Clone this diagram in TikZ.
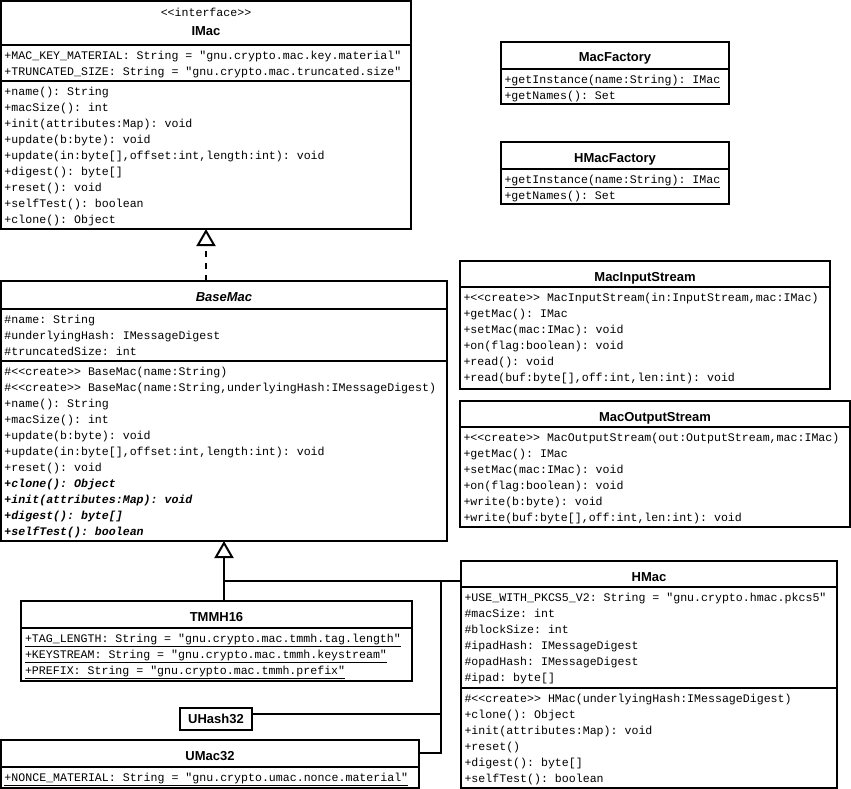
\documentclass[tikz,border=0pt]{standalone}
\usepackage{fontspec}
\setsansfont{Liberation Sans}
\setmonofont{Liberation Mono}
\usetikzlibrary{arrows.meta}

\begin{document}
\begin{tikzpicture}[x=1pt, y=-1pt, line width=2pt, line join=miter,
  clase/.style={draw, anchor=north west, inner sep=0pt, outer sep=0pt},
  separa/.style={line width=1.5pt},
  titulo/.style={font=\sffamily\bfseries\fontsize{13}{15}\selectfont, anchor=base, inner sep=0pt},
  miembro/.style={font=\ttfamily\fontsize{11.6}{16}\selectfont, anchor=base west, inner sep=0pt},
  hereda/.style={-{Triangle[open, length=17pt, width=19pt]}}]
  \useasboundingbox (0,0) rectangle (851,789);
  % las cajas de las clases
  \foreach \n/\x/\y/\w/\h in {imac/1/1/410/228, basemac/1/281/446/260, macfac/501/42/228/62,
      hmacfac/501/142/228/62, macin/460/261/370/128, macout/460/401/390/126,
      tmmh/21/601/391/80, uhash/180/708/72/22, umac/1/740/418/48, hmac/461/561/376/227} {
    \node[clase, minimum width=\w pt, minimum height=\h pt] (\n) at (\x,\y) {};
  }
  % los separadores de compartimentos
  \foreach \n/\y in {imac/45, imac/81, basemac/309, basemac/361, macfac/69, hmacfac/169,
      macin/287, macout/427, tmmh/628, umac/767, hmac/587, hmac/688} {
    \draw[separa] (\n.west |- 0,\y) -- (\n.east |- 0,\y);
  }
  % los nombres
  \node[miembro, anchor=base] (imac-estereo) at ([yshift=-16pt]imac.north) {<<interface>>};
  \node[titulo] (imac-nombre) at ([yshift=-35pt]imac.north) {IMac};
  \node[titulo, font=\sffamily\bfseries\itshape\fontsize{13}{15}\selectfont] (basemac-nombre)
    at ([yshift=-20pt]basemac.north) {BaseMac};
  \foreach \n/\t in {macfac/MacFactory, hmacfac/HMacFactory, macin/MacInputStream,
      macout/MacOutputStream, tmmh/TMMH16, umac/UMac32, hmac/HMac} {
    \node[titulo] (\n-nombre) at ([yshift=-20pt]\n.north) {\t};
  }
  \node[titulo, anchor=center] (uhash-nombre) at (uhash) {UHash32};
  % IMac
  \foreach \t [count=\i] in {{+MAC\_KEY\_MATERIAL: String = "gnu.crypto.mac.key.material"},
      {+TRUNCATED\_SIZE: String = "gnu.crypto.mac.truncated.size"}} {
    \node[miembro] (imac-at\i) at (3.5, 59.5+16*\i-16) {\t};
  }
  \foreach \t [count=\i] in {{+name(): String}, {+macSize(): int}, {+init(attributes:Map): void},
      {+update(b:byte): void}, {+update(in:byte[],offset:int,length:int): void},
      {+digest(): byte[]}, {+reset(): void}, {+selfTest(): boolean}, {+clone(): Object}} {
    \node[miembro] (imac-op\i) at (3.5, 95.5+16*\i-16) {\t};
  }
  % BaseMac
  \foreach \t [count=\i] in {{\#name: String}, {\#underlyingHash: IMessageDigest},
      {\#truncatedSize: int}} {
    \node[miembro] (basemac-at\i) at (3.5, 323.5+16*\i-16) {\t};
  }
  \foreach \t [count=\i] in {{\#<<create>> BaseMac(name:String)},
      {\#<<create>> BaseMac(name:String,underlyingHash:IMessageDigest)},
      {+name(): String}, {+macSize(): int}, {+update(b:byte): void},
      {+update(in:byte[],offset:int,length:int): void}, {+reset(): void},
      {\bfseries\itshape +clone(): Object}, {\bfseries\itshape +init(attributes:Map): void},
      {\bfseries\itshape +digest(): byte[]}, {\bfseries\itshape +selfTest(): boolean}} {
    \node[miembro] (basemac-op\i) at (3.5, 375.5+16*\i-16) {\t};
  }
  % las factorías
  \foreach \n/\y in {macfac/83.5, hmacfac/183.5} {
    \node[miembro] (\n-op1) at (503.5, \y) {\underline{+getInstance(name:String): IMac}};
    \node[miembro] (\n-op2) at (503.5, \y+16) {+getNames(): Set};
  }
  % los streams
  \foreach \t [count=\i] in {{+<<create>> MacInputStream(in:InputStream,mac:IMac)},
      {+getMac(): IMac}, {+setMac(mac:IMac): void}, {+on(flag:boolean): void},
      {+read(): void}, {+read(buf:byte[],off:int,len:int): void}} {
    \node[miembro] (macin-op\i) at (462.5, 301.5+16*\i-16) {\t};
  }
  \foreach \t [count=\i] in {{+<<create>> MacOutputStream(out:OutputStream,mac:IMac)},
      {+getMac(): IMac}, {+setMac(mac:IMac): void}, {+on(flag:boolean): void},
      {+write(b:byte): void}, {+write(buf:byte[],off:int,len:int): void}} {
    \node[miembro] (macout-op\i) at (462.5, 441.5+16*\i-16) {\t};
  }
  % TMMH16 y UMac32
  \foreach \t [count=\i] in {{+TAG\_LENGTH: String = "gnu.crypto.mac.tmmh.tag.length"},
      {+KEYSTREAM: String = "gnu.crypto.mac.tmmh.keystream"},
      {+PREFIX: String = "gnu.crypto.mac.tmmh.prefix"}} {
    \node[miembro] (tmmh-at\i) at (24, 642.5+16*\i-16) {\underline{\t}};
  }
  \node[miembro] (umac-at1) at (3.5, 781.5)
    {\underline{+NONCE\_MATERIAL: String = "gnu.crypto.umac.nonce.material"}};
  % HMac
  \foreach \t [count=\i] in {{+USE\_WITH\_PKCS5\_V2: String = "gnu.crypto.hmac.pkcs5"},
      {\#macSize: int}, {\#blockSize: int}, {\#ipadHash: IMessageDigest},
      {\#opadHash: IMessageDigest}, {\#ipad: byte[]}} {
    \node[miembro] (hmac-at\i) at (463.5, 601.5+16*\i-16) {\t};
  }
  \foreach \t [count=\i] in {{\#<<create>> HMac(underlyingHash:IMessageDigest)},
      {+clone(): Object}, {+init(attributes:Map): void}, {+reset()},
      {+digest(): byte[]}, {+selfTest(): boolean}} {
    \node[miembro] (hmac-op\i) at (463.5, 702.5+16*\i-16) {\t};
  }
  % la interfaz, realizada por BaseMac
  \draw[hereda, dash pattern=on 6pt off 6pt] (imac.south |- basemac.north) -- (imac.south);
  % las subclases de BaseMac
  \coordinate (rama) at (basemac.south |- 0,581);
  \coordinate (nudo) at (441,581);
  \coordinate (uhash-lazo) at (441,714);
  \coordinate (umac-lazo) at (441,753);
  \draw[hereda] (basemac.south |- tmmh.north) -- (basemac.south);
  \draw (rama) -- (rama -| hmac.west);
  \draw (nudo) -- (umac-lazo) -- (umac-lazo -| umac.east);
  \draw (uhash-lazo) -- (uhash-lazo -| uhash.east);
\end{tikzpicture}
\end{document}
